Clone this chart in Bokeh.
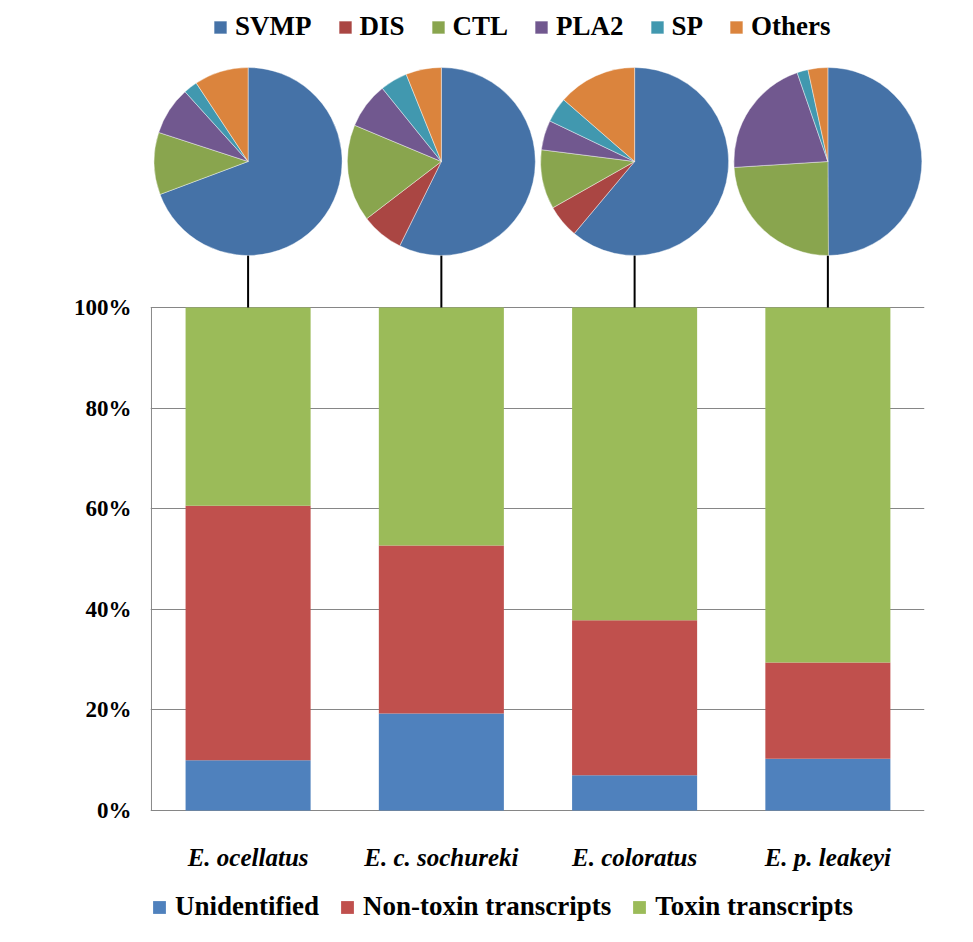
from math import pi
import numpy as np
from bokeh.plotting import figure
from bokeh.models import (Range1d, FixedTicker, NumeralTickFormatter, Legend,
                          LegendItem, Label, ColumnDataSource)
from bokeh.core.properties import value
from bokeh.embed import file_html
from bokeh.resources import INLINE

# ---------------- data ----------------
species = ["E. ocellatus", "E. c. sochureki", "E. coloratus", "E. p. leakeyi"]

est_classes = ["Unidentified", "Non-toxin transcripts", "Toxin transcripts"]
unidentified = [10.0, 19.3, 7.0, 10.3]
non_toxin = [50.6, 33.4, 30.8, 19.1]
toxin = [39.4, 47.3, 62.2, 70.6]

toxin_families = ["SVMP", "DIS", "CTL", "PLA2", "SP", "Others"]
svmp = [69.3, 57.3, 61.1, 49.9]
dis = [0.0, 7.3, 5.7, 0.0]
ctl = [10.7, 16.7, 10.2, 24.1]
pla2 = [8.3, 7.9, 5.1, 20.7]
sp = [2.4, 4.7, 4.3, 1.9]
others = [9.3, 6.1, 13.6, 3.4]

y_ticks = [0, 0.2, 0.4, 0.6, 0.8, 1.0]

# ---------------- styles ----------------
bar_colors = ["#4F81BD", "#C0504D", "#9BBB59"]
pie_colors = ["#4572A7", "#AA4643", "#89A54E", "#71588F", "#4198AF", "#DB843D"]
FONT = "'Liberation Serif', 'Times New Roman', serif"
GRID = "#868686"

# ---------------- figure ----------------
W, H = 957, 926
PX_PER_UNIT = 503.0
BASE = 810  # pixel row of 0 %
p = figure(width=W, height=H, output_backend="svg", toolbar_location=None,
           x_range=Range1d(-0.005, 4.0),
           y_range=Range1d(-(H - BASE) / PX_PER_UNIT, BASE / PX_PER_UNIT),
           x_axis_location=None,
           min_border_left=150, min_border_right=W - 924,
           min_border_top=0, min_border_bottom=0)
p.outline_line_color = None
p.background_fill_color = "white"

# y axis
p.yaxis.ticker = FixedTicker(ticks=y_ticks)
p.yaxis.formatter = NumeralTickFormatter(format="0%")
p.yaxis.axis_line_color = None
p.yaxis.major_tick_line_color = None
p.yaxis.minor_tick_line_color = None
p.yaxis.major_tick_out = 0
p.yaxis.major_tick_in = 0
p.yaxis.major_label_standoff = 19
p.yaxis.major_label_text_font = FONT
p.yaxis.major_label_text_font_style = "bold"
p.yaxis.major_label_text_font_size = "23px"
p.yaxis.major_label_text_color = "black"
for g in p.ygrid:
    g.ticker = FixedTicker(ticks=y_ticks)
    g.grid_line_color = GRID
    g.grid_line_width = 1
for g in p.xgrid:
    g.visible = False

# stacked bars
xc = [i + 0.5 for i in range(len(species))]
src = ColumnDataSource(dict(
    x=xc,
    unidentified=[v / 100 for v in unidentified],
    non_toxin=[v / 100 for v in non_toxin],
    toxin=[v / 100 for v in toxin],
))
bars = p.vbar_stack(["unidentified", "non_toxin", "toxin"], x="x", width=0.647,
                    source=src, color=bar_colors, line_color=None)

# left axis line
p.segment(x0=[0], y0=[0], x1=[0], y1=[1], line_color=GRID, line_width=1)

# connectors and pies
PIE_Y = (BASE - 161) / PX_PER_UNIT
p.segment(x0=xc, y0=[1] * len(xc), x1=xc, y1=[PIE_Y] * len(xc),
          line_color="black", line_width=2)

fam_vals = np.array([svmp, dis, ctl, pla2, sp, others], dtype=float)
fam_frac = fam_vals / fam_vals.sum(axis=0, keepdims=True)
cum = np.vstack([np.zeros(len(species)), np.cumsum(fam_frac, axis=0)])
wedges = []
for k, fam in enumerate(toxin_families):
    keep = fam_frac[k] > 0
    start = pi / 2 - cum[k + 1] * 2 * pi
    end = pi / 2 - cum[k] * 2 * pi
    ws = ColumnDataSource(dict(
        x=[xc[i] for i in range(len(xc)) if keep[i]],
        y=[PIE_Y for i in range(len(xc)) if keep[i]],
        start=[float(start[i]) for i in range(len(xc)) if keep[i]],
        end=[float(end[i]) for i in range(len(xc)) if keep[i]],
    ))
    r = p.wedge(x="x", y="y", radius=94, radius_units="screen",
                start_angle="start", end_angle="end", source=ws,
                fill_color=pie_colors[k], line_color="white", line_width=0.6,
                line_alpha=0.7)
    wedges.append(r)

# category labels
p.text(x=xc, y=[(BASE - 857) / PX_PER_UNIT] * len(xc), text=species,
       text_font=value(FONT), text_font_style="bold italic",
       text_font_size="25px", text_align="center",
       text_baseline="alphabetic", text_color="black")

# y axis title
p.add_layout(Label(x=-0.56, y=0.49, text="% of ESTs", angle=pi / 2,
                   text_align="center", text_baseline="middle",
                   text_font=FONT, text_font_style="bold",
                   text_font_size="23px", text_color="black"))

# top legend (toxin families)
top_leg = Legend(items=[LegendItem(label=f, renderers=[r])
                        for f, r in zip(toxin_families, wedges)],
                 orientation="horizontal", location=(62, H - 42),
                 padding=0, margin=0, spacing=25, label_standoff=7,
                 glyph_width=16, glyph_height=16,
                 border_line_color=None, background_fill_alpha=0,
                 label_text_font=FONT, label_text_font_style="bold",
                 label_text_font_size="27px", label_text_color="black")
p.add_layout(top_leg)

# bottom legend (EST classes)
bot_leg = Legend(items=[LegendItem(label=c, renderers=[r])
                        for c, r in zip(est_classes, bars)],
                 orientation="horizontal", location=(1, 4),
                 padding=0, margin=0, spacing=20, label_standoff=8,
                 glyph_width=16, glyph_height=16,
                 border_line_color=None, background_fill_alpha=0,
                 label_text_font=FONT, label_text_font_style="bold",
                 label_text_font_size="27px", label_text_color="black")
p.add_layout(bot_leg)

open("out.html", "w").write(file_html(p, INLINE))
